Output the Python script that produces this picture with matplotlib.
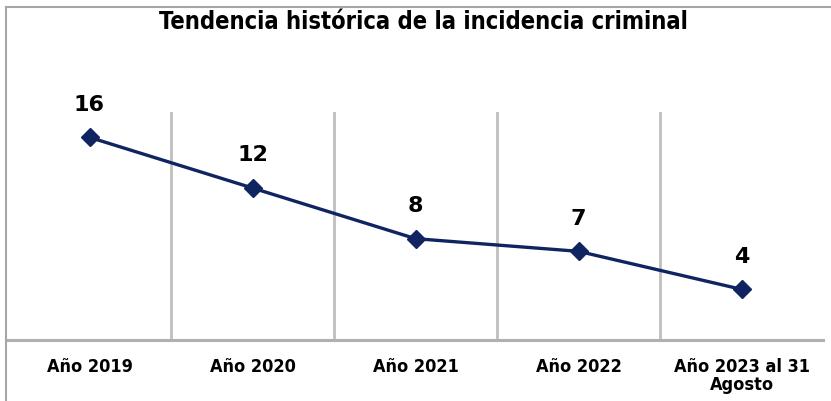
import matplotlib.pyplot as plt
from matplotlib.lines import Line2D

# data
categorias = ["Año 2019", "Año 2020", "Año 2021", "Año 2022", "Año 2023 al 31\nAgosto"]
incidencia = [16, 12, 8, 7, 4]

W, H = 831, 402
fig = plt.figure(figsize=(W / 100, H / 100), dpi=100)
ax = fig.add_axes([8 / W, (H - 341) / H, (823 - 8) / W, (341 - 113) / H])

x = range(len(categorias))
ax.plot(x, incidencia, color="#0f2461", lw=2.4, marker="D", ms=9, zorder=3)

for xi, v in zip(x, incidencia):
    ax.annotate(str(v), (xi, v), xytext=(0, 17), textcoords="offset points",
                ha="center", va="bottom", fontsize=16, fontweight="bold",
                family="DejaVu Sans", color="black")

ax.set_xlim(-0.5, len(categorias) - 0.5)
ax.set_ylim(0, 18)

# vertical gridlines between categories
for b in [0.5, 1.5, 2.5, 3.5]:
    ax.axvline(b, color="#bfbfbf", lw=2, zorder=1)

for s in ["top", "right", "left"]:
    ax.spines[s].set_visible(False)
ax.spines["bottom"].set_color("#b0b0b0")
ax.spines["bottom"].set_linewidth(2.2)
ax.set_yticks([])
ax.set_xticks(list(x))
ax.set_xticklabels(categorias, family="DejaVu Sans", fontstretch="condensed",
                   fontsize=13, fontweight="bold", linespacing=1.0)
ax.tick_params(axis="x", length=0, pad=12)

fig.text(423 / W, 1 - 22 / H, "Tendencia histórica de la incidencia criminal",
         ha="center", va="center", fontsize=17, fontweight="bold",
         family="DejaVu Sans", fontstretch="condensed", color="black")

# outer frame (left and top)
fig.add_artist(Line2D([6 / W, 6 / W], [0, 1 - 8 / H], transform=fig.transFigure,
                      color="#a6a6a6", lw=1.5))
fig.add_artist(Line2D([6 / W, 1], [1 - 8 / H, 1 - 8 / H], transform=fig.transFigure,
                      color="#a6a6a6", lw=1.5))

fig.savefig("out.png", dpi=100)
